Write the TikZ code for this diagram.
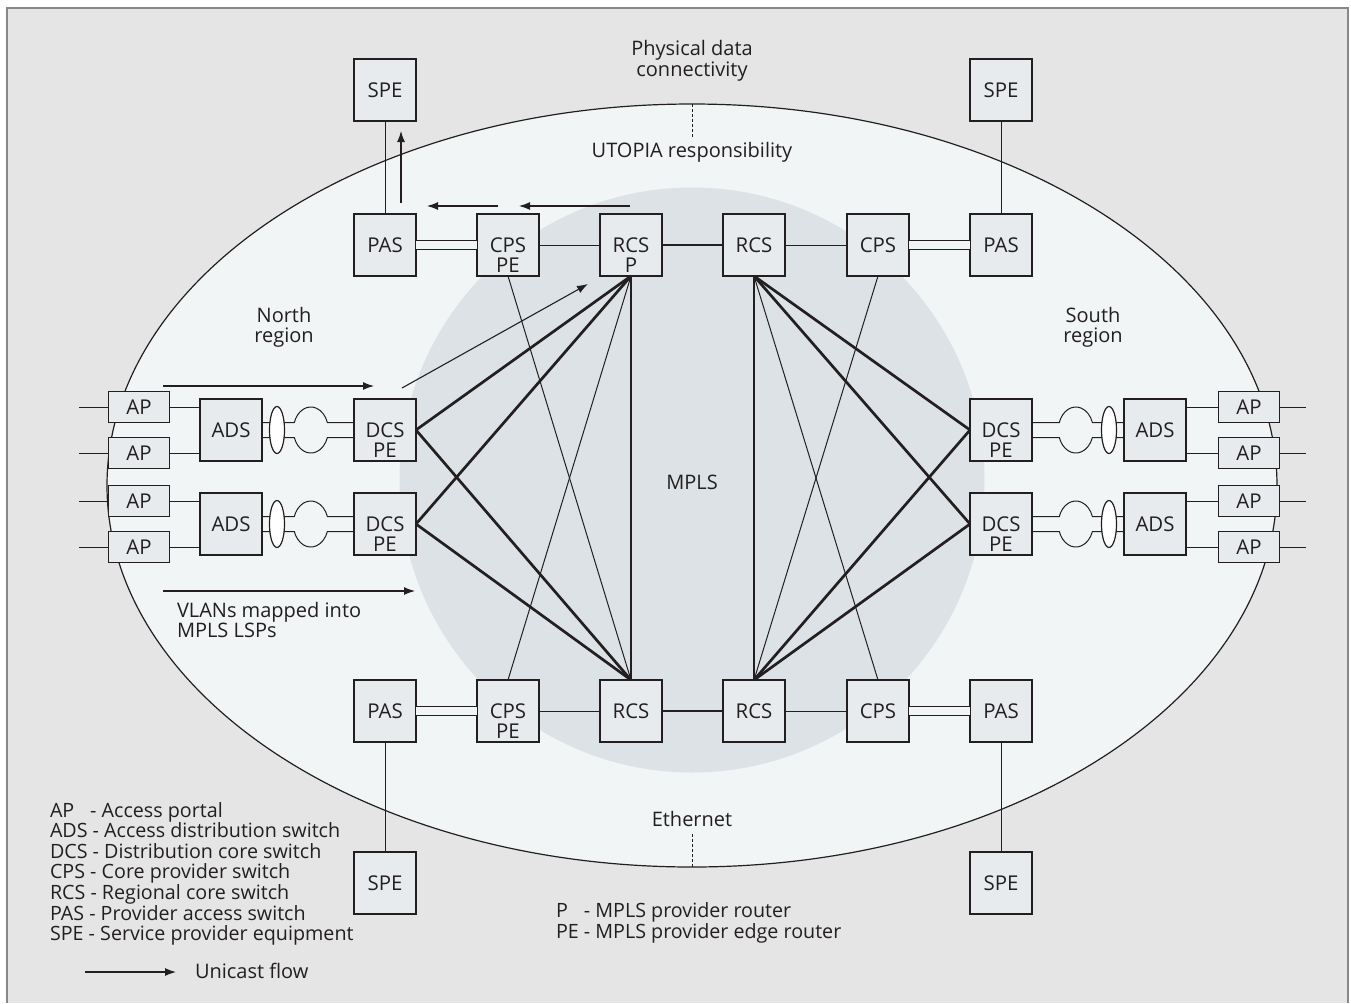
\documentclass[tikz,border=0pt]{standalone}
\usepackage{fontspec}
\setmainfont{Open Sans}
\usetikzlibrary{arrows.meta,shapes.geometric}
\definecolor{ink}{RGB}{35,31,32}
\definecolor{bggray}{RGB}{229,229,229}
\definecolor{framegray}{RGB}{136,136,136}
\definecolor{ellfill}{RGB}{242,245,246}
\definecolor{mplsfill}{RGB}{220,226,229}
\definecolor{boxfill}{RGB}{231,235,237}
\newcommand{\twoline}[2]{\rule{0pt}{17.5pt}#1\\#2}

\begin{document}
\begin{tikzpicture}[x=.5pt,y=-.5pt,
  box/.style={draw=ink,fill=boxfill,line width=0.65pt,inner sep=0pt,outer sep=0pt,minimum width=31pt,minimum height=31pt,align=center,text=ink,font=\fontsize{10.2}{10}\selectfont},
  apbox/.style={box,minimum width=30.5pt,minimum height=15.5pt},
  oval/.style={ellipse,draw=ink,fill=white,line width=0.6pt,inner sep=0pt,minimum width=7.5pt,minimum height=23.5pt},
  wire/.style={draw=ink,line width=0.5pt},
  trunk/.style={draw=ink,line width=1.35pt},
  dbl/.style={draw=ink,line width=0.5pt,double=ellfill,double distance=3.9pt},
  flow/.style={draw=ink,line width=0.55pt,-{Latex[length=5.5pt,width=4pt]}},
  tick/.style={draw=ink,line width=0.5pt,dash pattern=on 1.5pt off 1pt},
  lbl/.style={inner sep=0pt,outer sep=0pt,anchor=base,text=ink,font=\fontsize{10}{12}\selectfont},
  lblw/.style={lbl,anchor=base west},
  key/.style={lblw,font=\fontsize{9.85}{12}\selectfont}]
\useasboundingbox (0,0) rectangle (1351,1003);
\fill[white] (0,0) rectangle (1351,1003);
\fill[bggray] (7,8) rectangle (1348,1003);
\draw[framegray,line width=1pt] (7,1003) -- (7,8) -- (1348,8) -- (1348,1003);
\draw[ink,line width=0.6pt,fill=ellfill] (692,485.5) ellipse[x radius=585,y radius=381.5];
\fill[mplsfill] (692,480) circle[radius=292.5];

% top row
\node[box] (spe1) at (385,90) {SPE};
\node[box] (pas1) at (385,245) {PAS};
\node[box] (cps1) at (508,245) {\twoline{CPS}{PE}};
\node[box] (rcs1) at (631,245) {\twoline{RCS}{P}};
\node[box] (rcs2) at (754,245) {RCS};
\node[box] (cps2) at (878,245) {CPS};
\node[box] (pas2) at (1001,245) {PAS};
\node[box] (spe2) at (1001,90) {SPE};
% bottom row
\node[box] (pas3) at (385,711) {PAS};
\node[box] (cps3) at (508,711) {\twoline{CPS}{PE}};
\node[box] (rcs3) at (631,711) {RCS};
\node[box] (rcs4) at (754,711) {RCS};
\node[box] (cps4) at (878,711) {CPS};
\node[box] (pas4) at (1001,711) {PAS};
\node[box] (spe3) at (385,883) {SPE};
\node[box] (spe4) at (1001,883) {SPE};
% north region
\node[apbox] (ap1) at (139,407) {AP};
\node[apbox] (ap2) at (139,453) {AP};
\node[apbox] (ap3) at (139,501) {AP};
\node[apbox] (ap4) at (139,547) {AP};
\node[box] (ads1) at (231,430) {ADS};
\node[box] (ads2) at (231,524) {ADS};
\node[box] (dcs1) at (385,430) {\twoline{DCS}{PE}};
\node[box] (dcs2) at (385,524) {\twoline{DCS}{PE}};
% south region
\node[box] (dcs3) at (1001,430) {\twoline{DCS}{PE}};
\node[box] (dcs4) at (1001,524) {\twoline{DCS}{PE}};
\node[box] (ads3) at (1155,430) {ADS};
\node[box] (ads4) at (1155,524) {ADS};
\node[apbox] (ap5) at (1249,407) {AP};
\node[apbox] (ap6) at (1249,453) {AP};
\node[apbox] (ap7) at (1249,501) {AP};
\node[apbox] (ap8) at (1249,547) {AP};

% rings
\draw[wire] (spe1) -- (pas1);
\draw[wire] (spe2) -- (pas2);
\draw[wire] (pas3) -- (spe3);
\draw[wire] (pas4) -- (spe4);
\draw[dbl] (pas1) -- (cps1);
\draw[dbl] (cps2) -- (pas2);
\draw[dbl] (pas3) -- (cps3);
\draw[dbl] (cps4) -- (pas4);
\draw[wire] (cps1) -- (rcs1);
\draw[wire] (rcs2) -- (cps2);
\draw[wire] (cps3) -- (rcs3);
\draw[wire] (rcs4) -- (cps4);
\draw[trunk] (rcs1) -- (rcs2);
\draw[trunk] (rcs3) -- (rcs4);

% MPLS mesh
\draw[trunk] (dcs1.east) -- (rcs1.south);
\draw[trunk] (dcs2.east) -- (rcs1.south);
\draw[trunk] (dcs1.east) -- (rcs3.north);
\draw[trunk] (dcs2.east) -- (rcs3.north);
\draw[trunk] (rcs1.south) -- (rcs3.north);
\draw[wire] (cps1.south) -- (rcs3.north);
\draw[wire] (rcs1.south) -- (cps3.north);
\draw[trunk] (dcs3.west) -- (rcs2.south);
\draw[trunk] (dcs4.west) -- (rcs2.south);
\draw[trunk] (dcs3.west) -- (rcs4.north);
\draw[trunk] (dcs4.west) -- (rcs4.north);
\draw[trunk] (rcs2.south) -- (rcs4.north);
\draw[wire] (cps2.south) -- (rcs4.north);
\draw[wire] (rcs2.south) -- (cps4.north);

% access side
\foreach \n in {ap1,ap2,ap3,ap4} \draw[wire] (\n.west) -- ++(-30,0);
\foreach \n in {ap5,ap6,ap7,ap8} \draw[wire] (\n.east) -- ++(26,0);
\draw[wire] (ap1) -- (ap1 -| ads1.west);
\draw[wire] (ap2) -- (ap2 -| ads1.west);
\draw[wire] (ap3) -- (ap3 -| ads2.west);
\draw[wire] (ap4) -- (ap4 -| ads2.west);
\draw[wire] (ap5) -- (ap5 -| ads3.east);
\draw[wire] (ap6) -- (ap6 -| ads3.east);
\draw[wire] (ap7) -- (ap7 -| ads4.east);
\draw[wire] (ap8) -- (ap8 -| ads4.east);
\foreach \a/\d in {ads1/dcs1,ads2/dcs2}{
  \draw[wire] ([yshift=3.75pt]\a.east) -- ++(32.3,0) arc[start angle=199,end angle=341,x radius=17.5,y radius=23] -- ([yshift=3.75pt]\d.west);
  \draw[wire] ([yshift=-3.75pt]\a.east) -- ++(32.3,0) arc[start angle=161,end angle=19,x radius=17.5,y radius=23] -- ([yshift=-3.75pt]\d.west);
}
\foreach \d/\a in {dcs3/ads3,dcs4/ads4}{
  \draw[wire] ([yshift=3.75pt]\d.east) -- ++(27.3,0) arc[start angle=199,end angle=341,x radius=17.5,y radius=23] -- ([yshift=3.75pt]\a.west);
  \draw[wire] ([yshift=-3.75pt]\d.east) -- ++(27.3,0) arc[start angle=161,end angle=19,x radius=17.5,y radius=23] -- ([yshift=-3.75pt]\a.west);
}
\node[oval] (lag1) at (277,430) {};
\node[oval] (lag2) at (277,524) {};
\node[oval] (lag3) at (1109,430) {};
\node[oval] (lag4) at (1109,524) {};

% unicast flow
\draw[flow] (163,386) -- (374,386);
\draw[flow] (402,388) -- (588,284);
\draw[flow] (163,591) -- (415,591);
\draw[flow] (401,203) -- (401,131);
\draw[flow] (498,206) -- (427,206);
\draw[flow] (630,206) -- (519,206);

% labels
\node[lbl] (phys1) at (692,55) {Physical data};
\node[lbl] (phys2) at (692,76) {connectivity};
\node[lbl] (utopia) at (692,157) {UTOPIA responsibility};
\draw[tick] (692,104) -- (692,139);
\node[lbl] (north1) at (284,322) {North};
\node[lbl] (north2) at (284,342) {region};
\node[lbl] (south1) at (1093,322) {South};
\node[lbl] (south2) at (1093,342) {region};
\node[lbl] (mpls) at (692,489) {MPLS};
\node[lbl] (eth) at (692,826) {Ethernet};
\draw[tick] (692,834) -- (692,867);
\node[lblw] (vlan1) at (177,617) {VLANs mapped into};
\node[lblw] (vlan2) at (177,637) {MPLS LSPs};

% legend
\node[key] (key1) at (50,817) {AP\phantom{S} - Access portal};
\node[key] (key2) at (50,837.6) {ADS - Access distribution switch};
\node[key] (key3) at (50,858.2) {DCS - Distribution core switch};
\node[key] (key4) at (50,878.8) {CPS - Core provider switch};
\node[key] (key5) at (50,899.4) {RCS - Regional core switch};
\node[key] (key6) at (50,920) {PAS - Provider access switch};
\node[key] (key7) at (50,940.6) {SPE - Service provider equipment};
\draw[flow] (85,972) -- (176,972);
\node[lblw] (uni) at (195,978.5) {Unicast flow};
\node[key] (keyp) at (556,917.5) {P\phantom{E} - MPLS provider router};
\node[key] (keype) at (556,938) {PE - MPLS provider edge router};
\end{tikzpicture}
\end{document}
